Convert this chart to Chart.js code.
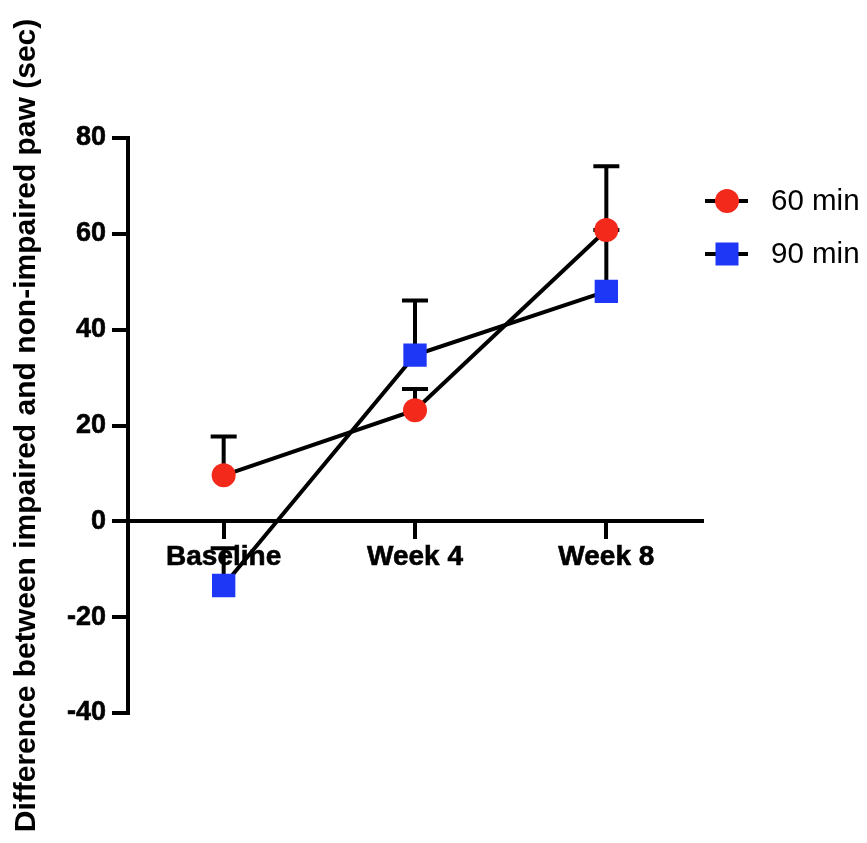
<!DOCTYPE html>
<html>
<head>
  <meta charset="UTF-8">
  <title>Paw Difference Over Time</title>
  <script src="https://cdn.jsdelivr.net/npm/chart.js"></script>
  <style>
    body {
      margin: 0;
      background: #fff;
    }
    canvas {
      display: block;
    }
  </style>
</head>
<body>
  <canvas id="chart" width="867" height="843"></canvas>

  <script>
    const timepoints = ['Baseline', 'Week 4', 'Week 8'];
    const mean60 = [9.6, 23.2, 60.8];
    const err60 = [8.1, 4.4, 13.3];
    const mean90 = [-13.4, 34.7, 48.0];
    const err90 = [7.8, 11.4, 12.8];
    const yTicks = [-40, -20, 0, 20, 40, 60, 80];

    const FONT = "'Liberation Sans', Arial, Helvetica, sans-serif";
    const RED = '#f3291b';
    const BLUE = '#1e36f6';

    // one-sided (upper) error bars, drawn under the markers
    const errorBars = {
      id: 'errorBars',
      beforeDatasetsDraw(chart) {
        const { ctx, scales: { x, y } } = chart;
        ctx.save();
        ctx.strokeStyle = '#000';
        ctx.lineWidth = 4;
        ctx.lineCap = 'butt';
        chart.data.datasets.forEach(ds => {
          ds.data.forEach((v, i) => {
            const px = x.getPixelForValue(i);
            const y0 = y.getPixelForValue(v);
            const y1 = y.getPixelForValue(v + ds.errUp[i]);
            ctx.beginPath();
            ctx.moveTo(px, y0);
            ctx.lineTo(px, y1);
            ctx.moveTo(px - 13, y1);
            ctx.lineTo(px + 13, y1);
            ctx.stroke();
          });
        });
        ctx.restore();
      }
    };

    // legend with a short line through each marker
    const sideLegend = {
      id: 'sideLegend',
      afterDraw(chart) {
        const { ctx } = chart;
        const rows = [201, 254];
        ctx.save();
        chart.data.datasets.forEach((ds, i) => {
          const cy = rows[i];
          ctx.strokeStyle = '#000';
          ctx.lineWidth = 4;
          ctx.beginPath();
          ctx.moveTo(705, cy);
          ctx.lineTo(748, cy);
          ctx.stroke();
          ctx.fillStyle = ds.pointBackgroundColor;
          ctx.beginPath();
          if (ds.pointStyle === 'rect') {
            ctx.rect(727 - 11.5, cy - 11.5, 23, 23);
          } else {
            ctx.arc(727, cy, ds.pointRadius, 0, Math.PI * 2);
          }
          ctx.fill();
          ctx.fillStyle = '#000';
          ctx.font = '29.5px ' + FONT;
          ctx.textBaseline = 'middle';
          ctx.textAlign = 'left';
          ctx.fillText(ds.label, 771, cy + 1);
        });
        ctx.restore();
      }
    };

    new Chart(document.getElementById('chart'), {
      type: 'line',
      data: {
        labels: timepoints,
        datasets: [
          {
            label: '60 min',
            data: mean60,
            errUp: err60,
            borderColor: '#000',
            borderWidth: 4,
            pointStyle: 'circle',
            pointRadius: 12,
            pointBorderWidth: 0,
            pointBackgroundColor: RED,
            tension: 0
          },
          {
            label: '90 min',
            data: mean90,
            errUp: err90,
            borderColor: '#000',
            borderWidth: 4,
            pointStyle: 'rect',
            pointRadius: 16.5,
            pointBorderWidth: 0,
            pointBackgroundColor: BLUE,
            tension: 0
          }
        ]
      },
      options: {
        responsive: false,
        animation: false,
        layout: {
          padding: { top: 138, bottom: 130, left: 0, right: 165 }
        },
        plugins: {
          legend: { display: false },
          tooltip: { enabled: false }
        },
        scales: {
          x: {
            type: 'category',
            position: { y: 0 },
            offset: true,
            grid: {
              offset: false,
              drawOnChartArea: false,
              drawTicks: true,
              tickLength: 16,
              color: '#000',
              lineWidth: 4
            },
            border: { display: true, color: '#000', width: 4 },
            ticks: {
              color: '#000',
              padding: 3,
              textStrokeColor: '#000',
              textStrokeWidth: 0.6,
              font: { family: FONT, size: 28, weight: 'bold' }
            }
          },
          y: {
            min: -40,
            max: 80,
            afterFit(scale) { scale.width = 128; },
            afterBuildTicks(scale) {
              scale.ticks = yTicks.map(v => ({ value: v }));
            },
            grid: {
              drawOnChartArea: false,
              drawTicks: true,
              tickLength: 16,
              color: '#000',
              lineWidth: 4
            },
            border: { display: true, color: '#000', width: 4 },
            ticks: {
              color: '#000',
              padding: 6,
              textStrokeColor: '#000',
              textStrokeWidth: 0.6,
              font: { family: FONT, size: 27, weight: 'bold' }
            },
            title: {
              display: true,
              text: 'Difference between impaired and non-impaired paw (sec)',
              color: '#000',
              padding: { top: 9, bottom: 0 },
              font: { family: FONT, size: 30, weight: 'bold' }
            }
          }
        }
      },
      plugins: [errorBars, sideLegend]
    });
  </script>
</body>
</html>
